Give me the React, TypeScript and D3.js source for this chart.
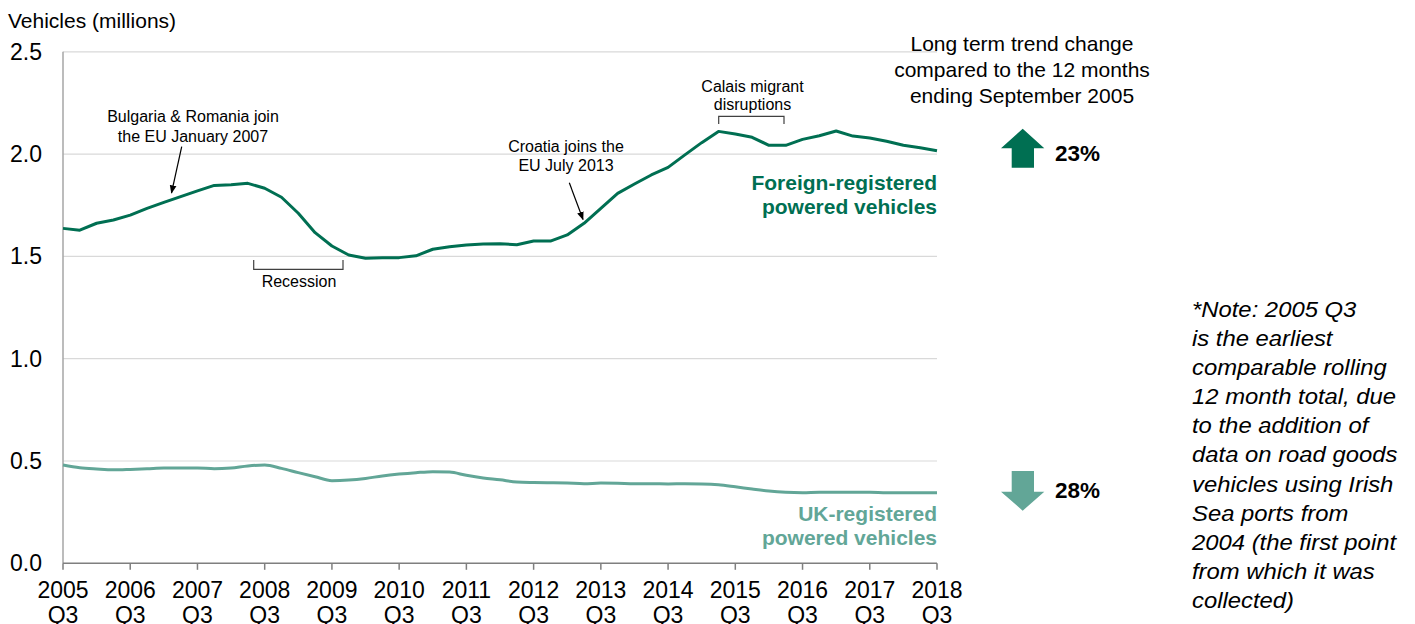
import React from "react";
import * as d3 from "d3";

const years = ["2005","2006","2007","2008","2009","2010","2011","2012","2013","2014","2015","2016","2017","2018"];
const quarterLabel = "Q3";
const yTicks = [0, 0.5, 1.0, 1.5, 2.0, 2.5];

const foreignValues = [
  1.637,1.628,1.662,1.678,1.702,1.735,1.764,1.792,1.820,1.847,
  1.850,1.857,1.833,1.789,1.711,1.616,1.551,1.507,1.491,1.494,
  1.494,1.503,1.535,1.547,1.556,1.561,1.562,1.557,1.575,1.575,
  1.605,1.662,1.735,1.808,1.854,1.898,1.935,1.996,2.056,2.111,
  2.098,2.082,2.043,2.043,2.072,2.090,2.113,2.088,2.079,2.063,
  2.043,2.031,2.016
];
const ukValues = [
  0.480,0.467,0.461,0.457,0.459,0.462,0.466,0.466,0.466,0.462,
  0.466,0.476,0.480,0.464,0.443,0.423,0.404,0.407,0.415,0.427,
  0.436,0.443,0.448,0.446,0.430,0.417,0.408,0.397,0.395,0.394,
  0.392,0.389,0.392,0.391,0.389,0.389,0.388,0.389,0.388,0.384,
  0.374,0.363,0.353,0.347,0.345,0.347,0.347,0.347,0.347,0.345,
  0.345,0.345,0.345
];
const trendLines = ["Long term trend change", "compared to the 12 months", "ending September 2005"];
const foreignChange = "23%";
const ukChange = "28%";
const noteLines = [
  "*Note: 2005 Q3", "is the earliest", "comparable rolling", "12 month total, due",
  "to the addition of", "data on road goods", "vehicles using Irish", "Sea ports from",
  "2004 (the first point", "from which it was", "collected)"
];

const DARK = "#006F52";
const TEAL = "#62A697";
const FONT = "'Liberation Sans', Arial, sans-serif";

export default function App() {
  const x = d3.scaleLinear().domain([0, 52]).range([63, 937]);
  const y = d3.scaleLinear().domain([0, 2.5]).range([563.3, 51.8]);
  const line = d3.line<number>().x((_, i) => x(i)).y((d) => y(d)).curve(d3.curveLinear);
  const ukLine = d3.line<number>().x((_, i) => x(i)).y((d) => y(d)).curve(d3.curveMonotoneX);

  return (
    <svg width={1415} height={624} style={{ position: "absolute", left: 0, top: 0, background: "#fff" }} fontFamily={FONT}>
      <defs>
        <marker id="ah" viewBox="0 0 10 10" refX="9" refY="5" markerWidth="7" markerHeight="7" orient="auto">
          <path d="M0,1 L10,5 L0,9 z" fill="#000" />
        </marker>
      </defs>
      <rect x={0} y={0} width={1415} height={624} fill="#fff" />
      <text x={8} y={28} fontSize={21} fill="#000">Vehicles (millions)</text>

      {yTicks.filter((t) => t > 0).map((t) => (
        <line key={"g" + t} x1={x(0)} x2={x(52)} y1={y(t)} y2={y(t)} stroke="#d9d9d9" strokeWidth={1.2} />
      ))}
      {yTicks.map((t) => (
        <text key={"yl" + t} x={42} y={y(t)} dy="0.35em" textAnchor="end" fontSize={23} fill="#000">{t.toFixed(1)}</text>
      ))}

      <line x1={x(0)} x2={x(0)} y1={y(2.5)} y2={y(0)} stroke="#a6a6a6" strokeWidth={1.5} />
      <line x1={x(0)} x2={x(52)} y1={y(0)} y2={y(0)} stroke="#7f7f7f" strokeWidth={1.5} />
      {years.map((yr, k) => (
        <g key={yr}>
          <line x1={x(k * 4)} x2={x(k * 4)} y1={y(0)} y2={y(0) + 6.5} stroke="#7f7f7f" strokeWidth={1.5} />
          <text x={x(k * 4)} y={598} textAnchor="middle" fontSize={23} fill="#000">{yr}</text>
          <text x={x(k * 4)} y={622.5} textAnchor="middle" fontSize={23} fill="#000">{quarterLabel}</text>
        </g>
      ))}

      <path d={ukLine(ukValues) || ""} fill="none" stroke={TEAL} strokeWidth={3} strokeLinejoin="round" />
      <path d={line(foreignValues) || ""} fill="none" stroke={DARK} strokeWidth={3} strokeLinejoin="round" />

      {/* Bulgaria annotation */}
      <text x={193} y={122} textAnchor="middle" fontSize={16} fill="#000">Bulgaria &amp; Romania join</text>
      <text x={193} y={141.5} textAnchor="middle" fontSize={16} fill="#000">the EU January 2007</text>
      <line x1={181.7} y1={146.7} x2={171.5} y2={193} stroke="#000" strokeWidth={1.2} markerEnd="url(#ah)" />

      {/* Recession */}
      <path d="M253.7,260 V269.3 H343 V260" fill="none" stroke="#404040" strokeWidth={1.2} />
      <text x={299} y={287} textAnchor="middle" fontSize={16} fill="#000">Recession</text>

      {/* Croatia */}
      <text x={566} y={152} textAnchor="middle" fontSize={16} fill="#000">Croatia joins the</text>
      <text x={566} y={170.5} textAnchor="middle" fontSize={16} fill="#000">EU July 2013</text>
      <line x1={569.3} y1={182.7} x2={583} y2={219.5} stroke="#000" strokeWidth={1.2} markerEnd="url(#ah)" />

      {/* Calais */}
      <text x={752.5} y={92} textAnchor="middle" fontSize={16} fill="#000">Calais migrant</text>
      <text x={752.5} y={110} textAnchor="middle" fontSize={16} fill="#000">disruptions</text>
      <path d="M718.7,124 V116.3 H784 V124" fill="none" stroke="#404040" strokeWidth={1.2} />

      {/* Series labels */}
      <text x={937} y={189.5} textAnchor="end" fontSize={21} fontWeight="bold" fill={DARK}>Foreign-registered</text>
      <text x={937} y={214} textAnchor="end" fontSize={21} fontWeight="bold" fill={DARK}>powered vehicles</text>
      <text x={937} y={521} textAnchor="end" fontSize={21} fontWeight="bold" fill={TEAL}>UK-registered</text>
      <text x={937} y={545} textAnchor="end" fontSize={21} fontWeight="bold" fill={TEAL}>powered vehicles</text>

      {/* Trend panel */}
      {trendLines.map((t, i) => (
        <text key={t} x={1022} y={50.5 + i * 26.3} textAnchor="middle" fontSize={21} fill="#000">{t}</text>
      ))}
      <polygon points="1022.7,128.7 1044.3,148.3 1034,148.3 1034,167.7 1011.7,167.7 1011.7,148.3 1001,148.3" fill={DARK} />
      <text x={1055} y={160.7} fontSize={22.5} fontWeight="bold" fill="#000">{foreignChange}</text>
      <polygon points="1011.7,471 1034,471 1034,491.7 1044.3,491.7 1022.7,510.7 1001,491.7 1011.7,491.7" fill={TEAL} />
      <text x={1055} y={498} fontSize={22.5} fontWeight="bold" fill="#000">{ukChange}</text>

      <g transform="translate(1192,0) scale(1.06,1)">
        {noteLines.map((t, i) => (
          <text key={t} x={0} y={317 + i * 29.1} fontSize={22.5} fontStyle="italic" fill="#000">{t}</text>
        ))}
      </g>
    </svg>
  );
}
